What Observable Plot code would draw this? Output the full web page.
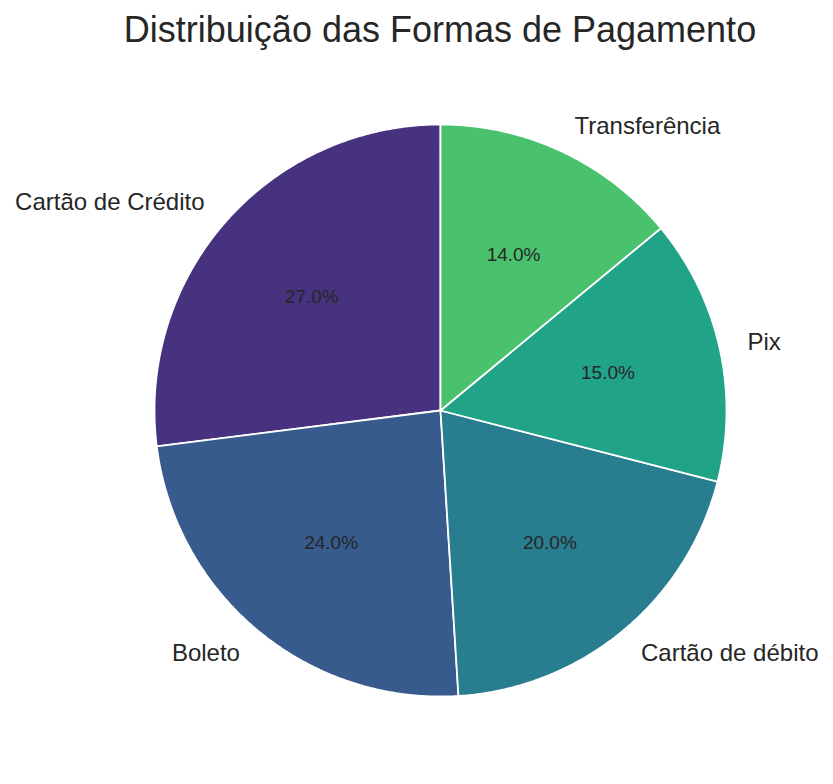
<!DOCTYPE html>
<html>
<head>
<meta charset="utf-8">
<script src="https://cdn.jsdelivr.net/npm/d3@7"></script>
<script src="https://cdn.jsdelivr.net/npm/@observablehq/plot@0.6"></script>
<style>
  body { margin: 0; background: #fff; font-family: "Liberation Sans", Arial, sans-serif; }
  #titulo { height: 60px; box-sizing: border-box; padding-top: 12px; padding-left: 47px;
    text-align: center; font-size: 36px; line-height: 1; color: #262626; width: 833px; }
</style>
</head>
<body>
<div id="titulo">Distribuição das Formas de Pagamento</div>
<div id="chart"></div>
<script>
const formas = ["Cartão de Crédito", "Boleto", "Cartão de débito", "Pix", "Transferência"]
const percentuais = [27, 24, 20, 15, 14]
const cores = ["#46327E", "#375B8D", "#287D8E", "#20A386", "#4AC16D"]

// fatias: começa em 90° e gira no sentido anti-horário (como o matplotlib)
const total = d3.sum(percentuais)
let inicio = 90
const fatias = formas.map((forma, i) => {
  const a0 = inicio
  const a1 = inicio + percentuais[i] / total * 360
  inicio = a1
  const meio = (a0 + a1) / 2 * Math.PI / 180
  return { forma, pct: percentuais[i], a0, a1, cx: Math.cos(meio), cy: Math.sin(meio) }
})

const pontos = []
fatias.forEach(f => {
  pontos.push({ forma: f.forma, x: 0, y: 0 })
  const n = Math.ceil((f.a1 - f.a0) / 0.5)
  for (let k = 0; k <= n; k++) {
    const a = (f.a0 + (f.a1 - f.a0) * k / n) * Math.PI / 180
    pontos.push({ forma: f.forma, x: Math.cos(a), y: Math.sin(a) })
  }
  pontos.push({ forma: f.forma, x: 0, y: 0 })
})

const fonte = '"Liberation Sans", Arial, sans-serif'

let chart = Plot.plot({
  width: 833,
  height: 724,
  margin: 0,
  x: { domain: [-440 / 286, 393 / 286], axis: null },
  y: { domain: [-374 / 286, 350 / 286], axis: null },
  color: { domain: formas, range: cores },
  style: { fontFamily: fonte, background: "#fff" },
  marks: [
    Plot.line(pontos, { x: "x", y: "y", z: "forma", fill: "forma", stroke: "white", strokeWidth: 1.8, strokeLinejoin: "miter" }),
    Plot.text(fatias, { x: d => d.cx * 0.6, y: d => d.cy * 0.6, text: d => d.pct.toFixed(1) + "%", fill: "#262626", fontSize: 19 }),
    Plot.text(fatias.filter(d => d.cx >= 0), { x: d => d.cx * 1.1, y: d => d.cy * 1.1, text: "forma", textAnchor: "start", fill: "#262626", fontSize: 24 }),
    Plot.text(fatias.filter(d => d.cx < 0), { x: d => d.cx * 1.1, y: d => d.cy * 1.1, text: "forma", textAnchor: "end", fill: "#262626", fontSize: 24 })
  ]
})

d3.select('#chart').append(() => chart)
</script>
</body>
</html>
